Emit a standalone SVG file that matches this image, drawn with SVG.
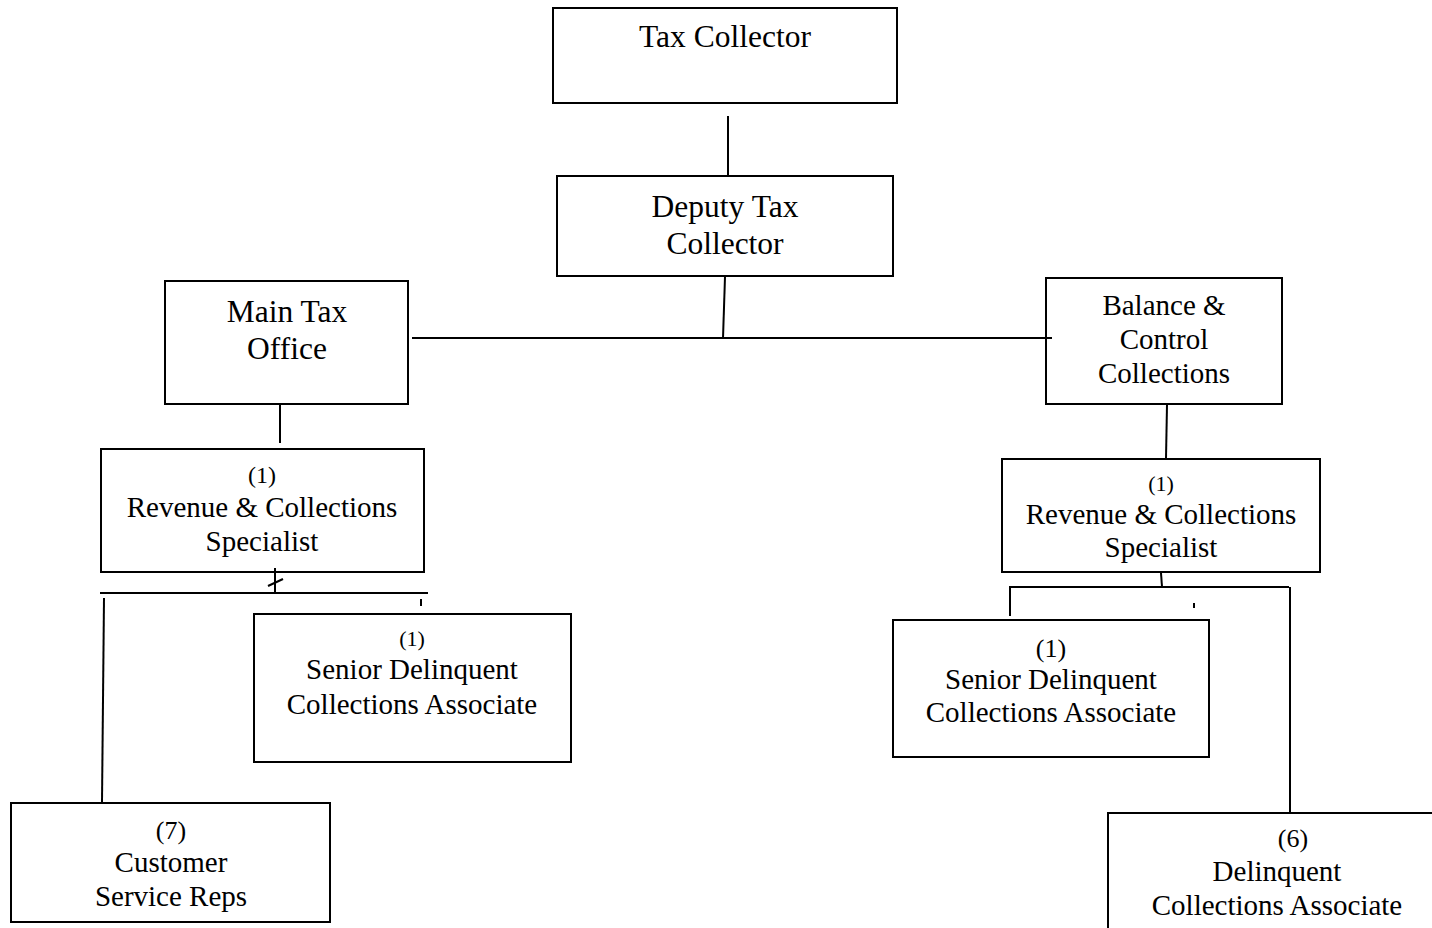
<svg xmlns="http://www.w3.org/2000/svg" width="1432" height="928" viewBox="0 0 1432 928">
  <style>
    .box { fill: #ffffff; stroke: #000000; stroke-width: 2; }
    .ln { fill: none; stroke: #000000; stroke-width: 2; }
    text { font-family: "Liberation Serif", "Times New Roman", serif; fill: #000000; text-anchor: middle; }
    .big { font-size: 31.5px; }
    .mid { font-size: 29px; }
    .num { font-size: 24px; }
    .num-s { font-size: 22px; }
    .num-l { font-size: 26px; }
  </style>
  <rect width="1432" height="928" fill="#ffffff"/>

  <g id="tax-collector">
    <rect class="box" x="553" y="8" width="344" height="95"/>
    <text class="big" x="725" y="47">Tax Collector</text>
  </g>

  <g id="deputy-tax-collector">
    <rect class="box" x="557" y="176" width="336" height="100"/>
    <text class="big" x="725" y="217">Deputy Tax</text>
    <text class="big" x="725" y="254">Collector</text>
  </g>

  <g id="main-tax-office">
    <rect class="box" x="165" y="281" width="243" height="123"/>
    <text class="big" x="287" y="322">Main Tax</text>
    <text class="big" x="287" y="359">Office</text>
  </g>

  <g id="balance-control">
    <rect class="box" x="1046" y="278" width="236" height="126"/>
    <text class="mid" x="1164" y="315">Balance &amp;</text>
    <text class="mid" x="1164" y="349">Control</text>
    <text class="mid" x="1164" y="383">Collections</text>
  </g>

  <g id="rev-specialist-left">
    <rect class="box" x="101" y="449" width="323" height="123"/>
    <text class="num" x="262" y="483">(1)</text>
    <text class="mid" x="262" y="517">Revenue &amp; Collections</text>
    <text class="mid" x="262" y="551">Specialist</text>
  </g>

  <g id="rev-specialist-right">
    <rect class="box" x="1002" y="459" width="318" height="113"/>
    <text class="num-s" x="1161" y="491">(1)</text>
    <text class="mid" x="1161" y="524">Revenue &amp; Collections</text>
    <text class="mid" x="1161" y="557">Specialist</text>
  </g>

  <g id="senior-assoc-left">
    <rect class="box" x="254" y="614" width="317" height="148"/>
    <text class="num-s" x="412" y="646">(1)</text>
    <text class="mid" x="412" y="679">Senior Delinquent</text>
    <text class="mid" x="412" y="714">Collections Associate</text>
  </g>

  <g id="senior-assoc-right">
    <rect class="box" x="893" y="620" width="316" height="137"/>
    <text class="num-l" x="1051" y="657">(1)</text>
    <text class="mid" x="1051" y="689">Senior Delinquent</text>
    <text class="mid" x="1051" y="722">Collections Associate</text>
  </g>

  <g id="customer-service">
    <rect class="box" x="11" y="803" width="319" height="119"/>
    <text class="num-l" x="171" y="839">(7)</text>
    <text class="mid" x="171" y="872">Customer</text>
    <text class="mid" x="171" y="906">Service Reps</text>
  </g>

  <g id="delinquent-assoc">
    <rect class="box" x="1108" y="813" width="340" height="130"/>
    <text class="num-l" x="1293" y="847">(6)</text>
    <text class="mid" x="1277" y="881">Delinquent</text>
    <text class="mid" x="1277" y="915">Collections Associate</text>
  </g>

  <!-- connectors, drawn over the boxes so overlapping ends stay visible -->
  <g id="connectors">
    <line class="ln" x1="728" y1="116" x2="728" y2="175"/>
    <line class="ln" x1="725" y1="277" x2="723" y2="338"/>
    <line class="ln" x1="412" y1="338" x2="1052" y2="338"/>
    <line class="ln" x1="280" y1="405" x2="280" y2="443"/>
    <line class="ln" x1="1167" y1="405" x2="1166" y2="458"/>
    <!-- left branch -->
    <line class="ln" x1="275" y1="568" x2="275" y2="593"/>
    <line class="ln" x1="268" y1="586" x2="283" y2="579"/>
    <line class="ln" x1="100" y1="593" x2="428" y2="593"/>
    <line class="ln" x1="421" y1="599" x2="421" y2="606"/>
    <line class="ln" x1="104" y1="598" x2="102" y2="802"/>
    <!-- right branch -->
    <line class="ln" x1="1161" y1="573" x2="1162" y2="587"/>
    <line class="ln" x1="1009" y1="587" x2="1289" y2="587"/>
    <line class="ln" x1="1010" y1="587" x2="1010" y2="616"/>
    <line class="ln" x1="1290" y1="587" x2="1290" y2="812"/>
    <line class="ln" x1="1194" y1="603" x2="1194" y2="608"/>
  </g>
</svg>
